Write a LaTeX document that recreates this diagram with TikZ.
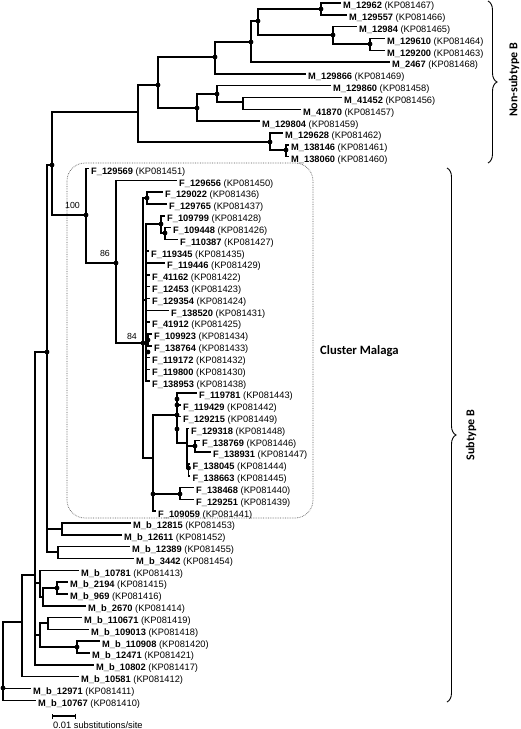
\documentclass[tikz,border=0pt]{standalone}
\usepackage{fontspec}
\setmainfont{Liberation Sans}
\newfontfamily\calibrifont{Carlito}
\usetikzlibrary{arrows.meta, decorations.pathreplacing}

\begin{document}
\begin{tikzpicture}[x=1pt, y=-1pt,
  br/.style={line width=1.5pt},
  leaf/.style={anchor=west, inner xsep=2.5pt, inner ysep=0pt, text height=11.6pt, text depth=0pt, font=\fontsize{9.3}{10}\selectfont},
  boot/.style={anchor=base east, inner sep=0pt, font=\fontsize{8.8}{10}\selectfont},
  grp/.style={inner sep=0pt, font=\calibrifont\bfseries\fontsize{12}{14}\selectfont},
  brc/.style={decorate, decoration={brace, amplitude=9pt}, line width=0.9pt},
  clusterbox/.style={densely dotted, black!65, line width=0.7pt, rounded corners=18pt}]
  \useasboundingbox (0,0) rectangle (520,729);

  % Cluster Malaga frame
  \draw[clusterbox] (67,163) rectangle (313,518);
  \node[grp, anchor=base west, font=\calibrifont\bfseries\fontsize{12.7}{14}\selectfont] (malaga) at (320,354.5) {Cluster Malaga};

  % Non-subtype B tips
  \node[leaf] (m12962) at (340.5,3.0) {\textbf{M\_12962} (KP081467)};
  \node[leaf] (m129557) at (346.5,14.8) {\textbf{M\_129557} (KP081466)};
  \node[leaf] (m12984) at (356.5,26.6) {\textbf{M\_12984} (KP081465)};
  \node[leaf] (m129610) at (384.5,38.5) {\textbf{M\_129610} (KP081464)};
  \node[leaf] (m129200) at (384.5,50.3) {\textbf{M\_129200} (KP081463)};
  \node[leaf] (m2467) at (389.5,62.1) {\textbf{M\_2467} (KP081468)};
  \node[leaf] (m129866) at (305.5,73.9) {\textbf{M\_129866} (KP081469)};
  \node[leaf] (m129860) at (330.5,85.7) {\textbf{M\_129860} (KP081458)};
  \node[leaf] (m41452) at (341.5,97.6) {\textbf{M\_41452} (KP081456)};
  \node[leaf] (m41870) at (300.5,109.4) {\textbf{M\_41870} (KP081457)};
  \node[leaf] (m129804) at (259.5,121.2) {\textbf{M\_129804} (KP081459)};
  \node[leaf] (m129628) at (282.5,133.0) {\textbf{M\_129628} (KP081462)};
  \node[leaf] (m138146) at (288.5,144.8) {\textbf{M\_138146} (KP081461)};
  \node[leaf] (m138060) at (288.5,156.7) {\textbf{M\_138060} (KP081460)};

  % Cluster Malaga tips
  \node[leaf] (f129569) at (88.5,168.5) {\textbf{F\_129569} (KP081451)};
  \node[leaf] (f129656) at (176.5,180.3) {\textbf{F\_129656} (KP081450)};
  \node[leaf] (f129022) at (162.5,192.1) {\textbf{F\_129022} (KP081436)};
  \node[leaf] (f129765) at (166.5,203.9) {\textbf{F\_129765} (KP081437)};
  \node[leaf] (f109799) at (164.5,215.8) {\textbf{F\_109799} (KP081428)};
  \node[leaf] (f109448) at (170.5,227.6) {\textbf{F\_109448} (KP081426)};
  \node[leaf] (f110387) at (177.5,239.4) {\textbf{F\_110387} (KP081427)};
  \node[leaf] (f119345) at (148.5,251.2) {\textbf{F\_119345} (KP081435)};
  \node[leaf] (f119446) at (164.5,263.0) {\textbf{F\_119446} (KP081429)};
  \node[leaf] (f41162) at (149.5,274.8) {\textbf{F\_41162} (KP081422)};
  \node[leaf] (f12453) at (149.5,286.7) {\textbf{F\_12453} (KP081423)};
  \node[leaf] (f129354) at (149.5,298.5) {\textbf{F\_129354} (KP081424)};
  \node[leaf] (f138520) at (168.5,310.3) {\textbf{F\_138520} (KP081431)};
  \node[leaf] (f41912) at (149.5,322.1) {\textbf{F\_41912} (KP081425)};
  \node[leaf] (f109923) at (151.5,333.9) {\textbf{F\_109923} (KP081434)};
  \node[leaf] (f138764) at (151.5,345.8) {\textbf{F\_138764} (KP081433)};
  \node[leaf] (f119172) at (149.5,357.6) {\textbf{F\_119172} (KP081432)};
  \node[leaf] (f119800) at (149.5,369.4) {\textbf{F\_119800} (KP081430)};
  \node[leaf] (f138953) at (149.5,381.2) {\textbf{F\_138953} (KP081438)};
  \node[leaf] (f119781) at (196.5,393.0) {\textbf{F\_119781} (KP081443)};
  \node[leaf] (f119429) at (180.5,404.8) {\textbf{F\_119429} (KP081442)};
  \node[leaf] (f129215) at (180.5,416.7) {\textbf{F\_129215} (KP081449)};
  \node[leaf] (f129318) at (188.5,428.5) {\textbf{F\_129318} (KP081448)};
  \node[leaf] (f138769) at (199.5,440.3) {\textbf{F\_138769} (KP081446)};
  \node[leaf] (f138931) at (210.5,452.1) {\textbf{F\_138931} (KP081447)};
  \node[leaf] (f138045) at (190,463.9) {\textbf{F\_138045} (KP081444)};
  \node[leaf] (f138663) at (190,475.8) {\textbf{F\_138663} (KP081445)};
  \node[leaf] (f138468) at (193.5,487.6) {\textbf{F\_138468} (KP081440)};
  \node[leaf] (f129251) at (193.5,499.4) {\textbf{F\_129251} (KP081439)};
  \node[leaf] (f109059) at (155.5,511.2) {\textbf{F\_109059} (KP081441)};

  % Subtype B tips outside the cluster
  \node[leaf] (mb12815) at (130.5,523.0) {\textbf{M\_b\_12815} (KP081453)};
  \node[leaf] (mb12611) at (121.5,534.8) {\textbf{M\_b\_12611} (KP081452)};
  \node[leaf] (mb12389) at (129.5,546.7) {\textbf{M\_b\_12389} (KP081455)};
  \node[leaf] (mb3442) at (133.5,558.5) {\textbf{M\_b\_3442} (KP081454)};
  \node[leaf] (mb10781) at (78.5,570.3) {\textbf{M\_b\_10781} (KP081413)};
  \node[leaf] (mb2194) at (67.5,582.1) {\textbf{M\_b\_2194} (KP081415)};
  \node[leaf] (mb969) at (67.5,593.9) {\textbf{M\_b\_969} (KP081416)};
  \node[leaf] (mb2670) at (85.5,605.8) {\textbf{M\_b\_2670} (KP081414)};
  \node[leaf] (mb110671) at (81.5,617.6) {\textbf{M\_b\_110671} (KP081419)};
  \node[leaf] (mb109013) at (88.5,629.4) {\textbf{M\_b\_109013} (KP081418)};
  \node[leaf] (mb110908) at (99.5,641.2) {\textbf{M\_b\_110908} (KP081420)};
  \node[leaf] (mb12471) at (89.5,653.0) {\textbf{M\_b\_12471} (KP081421)};
  \node[leaf] (mb10802) at (93.5,664.9) {\textbf{M\_b\_10802} (KP081417)};
  \node[leaf] (mb10581) at (78.5,676.7) {\textbf{M\_b\_10581} (KP081412)};
  \node[leaf] (mb12971) at (30.5,688.5) {\textbf{M\_b\_12971} (KP081411)};
  \node[leaf] (mb10767) at (35.5,700.3) {\textbf{M\_b\_10767} (KP081410)};

  % Inner nodes
  \coordinate (root) at (3,688);
  \coordinate (ca) at (22,622);
  \coordinate (n0) at (35,575);
  \coordinate (n1) at (47,352);
  \coordinate (n2) at (52,165);
  \coordinate (nsb) at (138,112);
  \coordinate (nb) at (158,85);
  \coordinate (nd) at (215,57);
  \coordinate (nf) at (251,42);
  \coordinate (ng) at (258,21);
  \coordinate (nh) at (321,9);
  \coordinate (ni) at (333,35);
  \coordinate (nj) at (370,44);
  \coordinate (ne) at (197,108);
  \coordinate (nk) at (217,94);
  \coordinate (nl) at (243,102);
  \coordinate (nc) at (270,142);
  \coordinate (nm) at (286,150);
  \coordinate (ncl) at (86,215);
  \coordinate (n86) at (116,263);
  \coordinate (n84) at (143,343);
  \coordinate (fa) at (147,198);
  \coordinate (fz) at (146,300);
  \coordinate (fb) at (161,224);
  \coordinate (fc) at (165,233);
  \coordinate (fd) at (148,340);
  \coordinate (fy) at (153,458);
  \coordinate (fw) at (177,415);
  \coordinate (fu) at (187,443);
  \coordinate (ft) at (195,446);
  \coordinate (fs) at (188.5,468);
  \coordinate (fv) at (180,494);
  \coordinate (bp) at (62,529);
  \coordinate (bq) at (58,552);
  \coordinate (bq1) at (40,583);
  \coordinate (bs) at (43,597);
  \coordinate (bt) at (57,588);
  \coordinate (bq2) at (40,635);
  \coordinate (bw) at (48,623);
  \coordinate (bx) at (77,647);

  % Branches
  \draw[br] (root) |- (ca) (root) |- (mb12971) (root) |- (mb10767);
  \draw[br] (ca) |- (n0) (ca) |- (mb10581);
  \draw[br] (n0) |- (n1) (n0) |- (bq1) (n0) |- (bq2) (n0) |- (mb10802);
  \draw[br] (n1) |- (n2) (n1) |- (bp) (n1) |- (bq);
  \draw[br] (n2) |- (nsb) (n2) |- (ncl);
  \draw[br] (nsb) |- (nb) (nsb) |- (nc);
  \draw[br] (nb) |- (nd) (nb) |- (ne);
  \draw[br] (nd) |- (nf) (nd) |- (m129866);
  \draw[br] (nf) |- (ng) (nf) |- (m2467);
  \draw[br] (ng) |- (nh) (ng) |- (ni);
  \draw[br] (nh) |- (m12962) (nh) |- (m129557);
  \draw[br] (ni) |- (m12984) (ni) |- (nj);
  \draw[br] (nj) |- (m129610) (nj) |- (m129200);
  \draw[br] (ne) |- (nk) (ne) |- (m129804);
  \draw[br] (nk) |- (m129860) (nk) |- (nl);
  \draw[br] (nl) |- (m41452) (nl) |- (m41870);
  \draw[br] (nc) |- (m129628) (nc) |- (nm);
  \draw[br] (nm) |- (m138146) (nm) |- (m138060);
  \draw[br] (ncl) |- (f129569) (ncl) |- (n86);
  \draw[br] (n86) |- (f129656) (n86) |- (n84);
  \draw[br] (n84) |- (fa) (n84) |- (fz) (n84) |- (fy);
  \draw[br] (fa) |- (f129022) (fa) |- (f129765);
  \draw[br] (fz) |- (fb) (fz) |- (f119345) (fz) |- (f119446) (fz) |- (f41162) (fz) |- (f12453)
    (fz) |- (f129354) (fz) |- (f138520) (fz) |- (f41912) (fz) |- (fd) (fz) |- (f119172)
    (fz) |- (f119800) (fz) |- (f138953);
  \draw[br] (fb) |- (f109799) (fb) |- (fc);
  \draw[br] (fc) |- (f109448) (fc) |- (f110387);
  \draw[br] (fd) |- (f109923) (fd) |- (f138764);
  \draw[br] (fy) |- (fw) (fy) |- (fv) (fy) |- (f109059);
  \draw[br] (fw) |- (f119781) (fw) |- (f119429) (fw) |- (f129215) (fw) |- (fu);
  \draw[br] (fu) |- (f129318) (fu) |- (ft) (fu) |- (fs);
  \draw[br] (ft) |- (f138769) (ft) |- (f138931);
  \draw[br] (fs) |- (f138045) (fs) |- (f138663);
  \draw[br] (fv) |- (f138468) (fv) |- (f129251);
  \draw[br] (bp) |- (mb12815) (bp) |- (mb12611);
  \draw[br] (bq) |- (mb12389) (bq) |- (mb3442);
  \draw[br] (bq1) |- (mb10781) (bq1) |- (bs);
  \draw[br] (bs) |- (bt) (bs) |- (mb2670);
  \draw[br] (bt) |- (mb2194) (bt) |- (mb969);
  \draw[br] (bq2) |- (bw) (bq2) |- (bx);
  \draw[br] (bw) |- (mb110671) (bw) |- (mb109013);
  \draw[br] (bx) |- (mb110908) (bx) |- (mb12471);

  % Node dots
  \foreach \p in {root,n1,n2,nb,nd,nf,ng,nh,ni,nj,ne,nk,nc,nm,ncl,n86,n84,fa,fb,fc,fd,fw,ft,fs,fv,bt,bx}
    \fill (\p) circle (2.4pt);
  \fill (177,399) circle (2.4pt) (177,405) circle (2.4pt) (177,429) circle (2.4pt)
    (148,352) circle (2.4pt) (153,494) circle (2.4pt);

  % Bootstrap values
  \node[boot] (b100) at (80,208) {100};
  \node[boot] (b86) at (110,256.5) {86};
  \node[boot] (b84) at (137,339) {84};

  % Groups
  \draw[brc] (488,1) -- (488,163);
  \node[grp, rotate=90] (nonb) at (514,80) {Non-subtype B};
  \draw[brc] (447,168) -- (447,702);
  \node[grp, rotate=90] (subb) at (471,435) {Subtype B};

  % Scale bar
  \coordinate (s0) at (52,716);
  \coordinate (s1) at (76,716);
  \draw[line width=1.2pt, {Bar[width=5pt]}-{Bar[width=5pt]}] (s0) -- (s1);
  \node[anchor=base west, inner sep=0pt, font=\fontsize{9.3}{10}\selectfont] (scale) at (53,728) {0.01 substitutions/site};
\end{tikzpicture}
\end{document}
